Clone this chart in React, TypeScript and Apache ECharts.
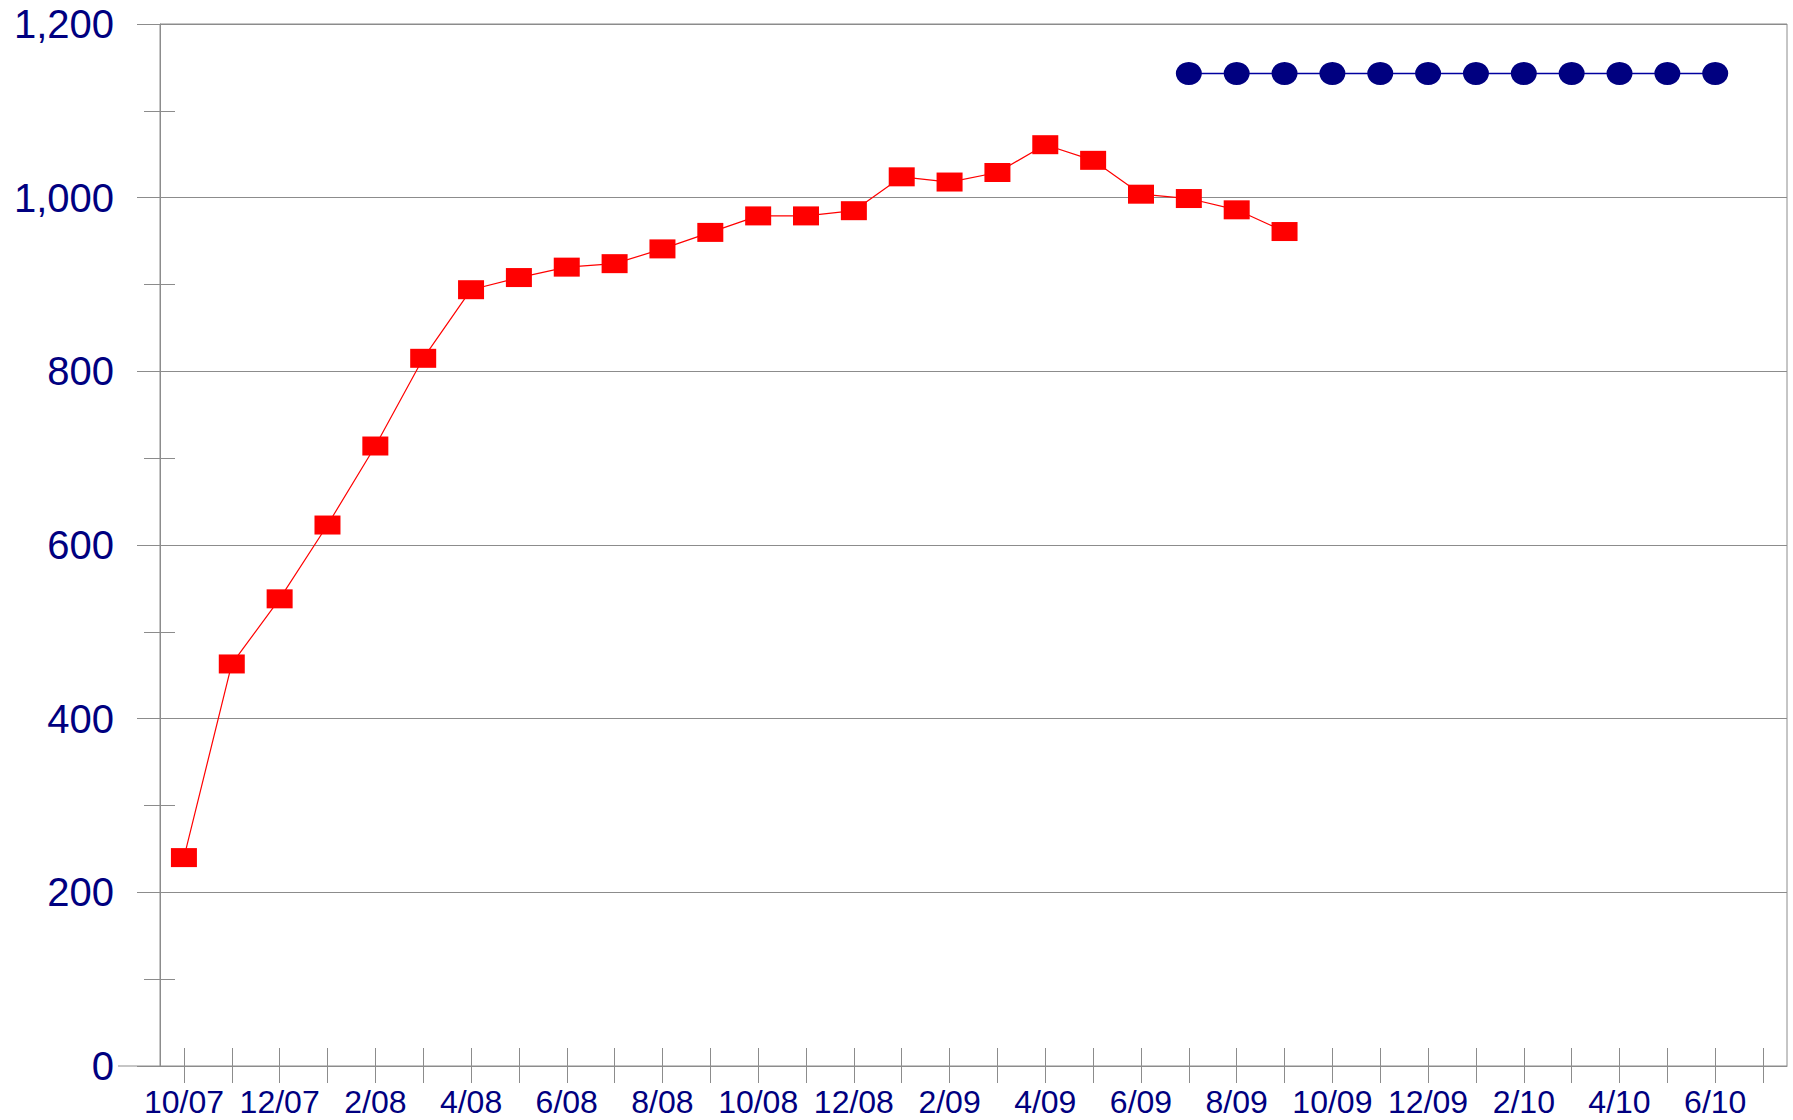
import React, { useEffect, useRef } from "react";
import * as echarts from "echarts";

const categories = [
  "10/07", "11/07", "12/07", "1/08", "2/08", "3/08", "4/08", "5/08", "6/08", "7/08", "8/08", "9/08",
  "10/08", "11/08", "12/08", "1/09", "2/09", "3/09", "4/09", "5/09", "6/09", "7/09", "8/09", "9/09",
  "10/09", "11/09", "12/09", "1/10", "2/10", "3/10", "4/10", "5/10", "6/10", "7/10",
];

const actualValues: (number | null)[] = [
  240, 463, 538, 623, 714, 815, 894, 908, 920, 924, 941, 960,
  979, 979, 985, 1024, 1018, 1029, 1061, 1043, 1004, 999, 986, 961,
  null, null, null, null, null, null, null, null, null, null,
];

const targetValues: (number | null)[] = [
  null, null, null, null, null, null, null, null, null, null, null, null,
  null, null, null, null, null, null, null, null, null, 1143, 1143, 1143,
  1143, 1143, 1143, 1143, 1143, 1143, 1143, 1143, 1143, null,
];

const NAVY = "#000080";
const GRID = "#8c8c8c";
const FONT = "'Liberation Sans', Arial, sans-serif";

export default function App() {
  const ref = useRef<HTMLDivElement>(null);
  useEffect(() => {
    if (!ref.current) return;
    const chart = echarts.init(ref.current, undefined, { renderer: "svg" });
    chart.setOption({
      animation: false,
      backgroundColor: "#ffffff",
      grid: {
        left: 160,
        top: 24,
        right: 6,
        bottom: 54,
        show: true,
        borderColor: GRID,
        borderWidth: 1,
        backgroundColor: "transparent",
      },
      xAxis: [
        {
          type: "category",
          data: categories,
          position: "bottom",
          boundaryGap: true,
          axisLine: { show: true, lineStyle: { color: GRID, width: 1 } },
          axisTick: { show: true, alignWithLabel: true, interval: 0, length: 17, lineStyle: { color: GRID } },
          axisLabel: {
            interval: 1,
            color: NAVY,
            fontSize: 32,
            fontFamily: FONT,
            margin: 20,
          },
          splitLine: { show: false },
        },
        {
          type: "category",
          data: categories,
          position: "bottom",
          boundaryGap: true,
          axisLine: { show: false },
          axisTick: { show: true, inside: true, alignWithLabel: true, interval: 0, length: 18, lineStyle: { color: GRID } },
          axisLabel: { show: false },
          splitLine: { show: false },
        },
      ],
      yAxis: [
        {
          type: "value",
          min: 0,
          max: 1200,
          interval: 200,
          position: "left",
          axisLine: { show: true, lineStyle: { color: GRID, width: 1 } },
          axisTick: { show: true, length: 23, lineStyle: { color: GRID } },
          minorTick: { show: true, splitNumber: 2, length: 16, lineStyle: { color: GRID } },
          axisLabel: {
            color: NAVY,
            fontSize: 40,
            fontFamily: FONT,
            margin: 46,
            formatter: (v: number) => v.toLocaleString("en-US"),
          },
          splitLine: { show: true, lineStyle: { color: GRID, width: 1 } },
        },
        {
          type: "value",
          min: 0,
          max: 1200,
          interval: 100,
          position: "left",
          axisLine: { show: false },
          axisTick: { show: true, inside: true, length: 15, lineStyle: { color: GRID } },
          axisLabel: { show: false },
          splitLine: { show: false },
        },
      ],
      graphic: [
        {
          type: "line",
          shape: { x1: 118, y1: 1066, x2: 160, y2: 1066 },
          style: { stroke: GRID, lineWidth: 1 },
          z: 10,
        },
      ],
      series: [
        {
          type: "line",
          data: actualValues,
          xAxisIndex: 0,
          yAxisIndex: 0,
          symbol: "rect",
          symbolSize: [26, 19],
          itemStyle: { color: "#ff0000" },
          lineStyle: { color: "#ff0000", width: 1.2 },
          connectNulls: false,
          z: 3,
        },
        {
          type: "line",
          data: targetValues,
          xAxisIndex: 0,
          yAxisIndex: 0,
          symbol: "circle",
          symbolSize: [26, 23],
          itemStyle: { color: NAVY },
          lineStyle: { color: "#0000a0", width: 1.5 },
          connectNulls: false,
          z: 3,
        },
      ],
    });
    return () => chart.dispose();
  }, []);
  return (
    <div
      ref={ref}
      style={{ position: "fixed", left: 0, top: 0, width: 1793, height: 1120 }}
    />
  );
}
